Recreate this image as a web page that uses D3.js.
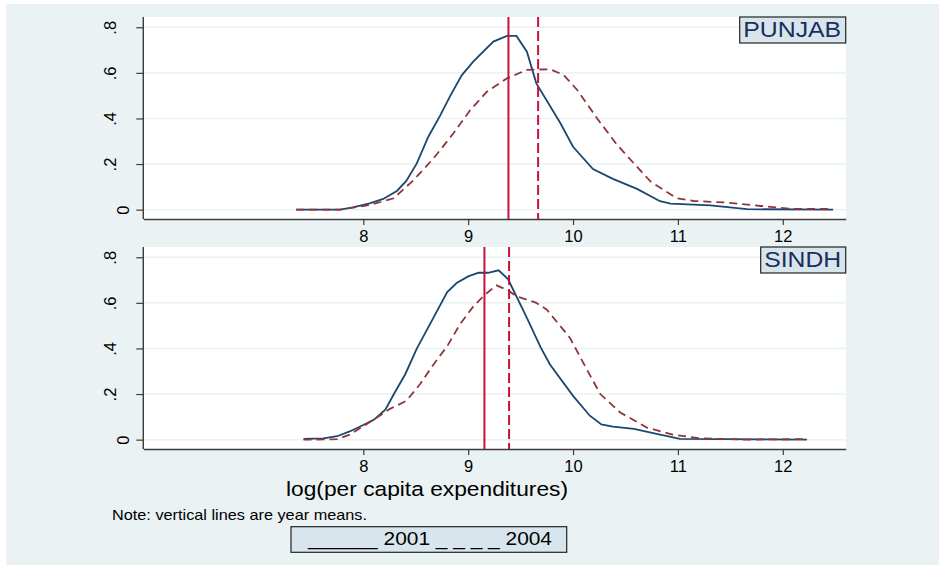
<!DOCTYPE html>
<html>
    <head>
        <title>Expenditure densities</title>
        <script src="https://d3js.org/d3.v7.min.js"></script>
        <style>
            body { margin: 0; }
            svg { display: block; background-color: white; }
            text { font-family: 'Liberation Sans', Arial, sans-serif; }
        </style>
    </head>
    <body>
        <script>
            // chart values
            const regions = ['PUNJAB', 'SINDH']
            const years = ['2001', '2004']
            const xTicks = [8, 9, 10, 11, 12]
            const yTicks = [0, 0.2, 0.4, 0.6, 0.8]
            const yTickLabels = ['0', '.2', '.4', '.6', '.8']

            const punjab2001 = [
                [7.36, 0], [7.78, 0], [7.90, 0.01], [8.06, 0.028], [8.19, 0.047],
                [8.32, 0.082], [8.41, 0.126], [8.51, 0.203], [8.62, 0.32], [8.73, 0.41],
                [8.83, 0.50], [8.94, 0.59], [9.05, 0.65], [9.24, 0.737], [9.37, 0.762],
                [9.46, 0.762], [9.56, 0.693], [9.65, 0.554], [9.88, 0.379], [10.0, 0.276],
                [10.19, 0.178], [10.38, 0.135], [10.61, 0.091], [10.83, 0.037], [10.93, 0.026],
                [11.31, 0.019], [11.66, 0.002], [12.48, 0]
            ]
            const punjab2004 = [
                [7.36, 0], [7.78, 0], [8.06, 0.02], [8.29, 0.05], [8.48, 0.13],
                [8.67, 0.225], [8.86, 0.335], [9.02, 0.437], [9.18, 0.518], [9.37, 0.576],
                [9.56, 0.613], [9.78, 0.616], [9.91, 0.591], [10.04, 0.525], [10.23, 0.40],
                [10.42, 0.284], [10.58, 0.203], [10.74, 0.123], [10.99, 0.05], [11.15, 0.038],
                [11.47, 0.031], [11.79, 0.016], [12.10, 0.003], [12.48, 0.003]
            ]
            const sindh2001 = [
                [7.43, 0.003], [7.62, 0.006], [7.75, 0.015], [7.87, 0.036], [8.0, 0.064],
                [8.10, 0.087], [8.21, 0.131], [8.30, 0.207], [8.40, 0.287], [8.51, 0.399],
                [8.65, 0.519], [8.80, 0.647], [8.89, 0.687], [9.0, 0.716], [9.10, 0.732],
                [9.19, 0.732], [9.29, 0.743], [9.38, 0.704], [9.56, 0.534], [9.69, 0.406],
                [9.78, 0.33], [10.0, 0.192], [10.16, 0.105], [10.27, 0.067], [10.38, 0.057],
                [10.58, 0.047], [10.83, 0.022], [11.02, 0.003], [12.23, 0]
            ]
            const sindh2004 = [
                [7.43, 0], [7.75, 0.002], [7.87, 0.022], [8.0, 0.059], [8.13, 0.097],
                [8.25, 0.134], [8.41, 0.17], [8.54, 0.243], [8.67, 0.33], [8.80, 0.41],
                [8.92, 0.505], [9.05, 0.585], [9.16, 0.636], [9.27, 0.677], [9.38, 0.655],
                [9.46, 0.629], [9.65, 0.60], [9.75, 0.57], [9.97, 0.447], [10.13, 0.309],
                [10.26, 0.20], [10.45, 0.119], [10.70, 0.054], [10.95, 0.022], [11.21, 0.006],
                [11.63, 0], [12.10, 0.002], [12.23, 0.002]
            ]
            const punjabMeans = [9.384, 9.667]
            const sindhMeans = [9.155, 9.39]

            const panels = [
                { name: regions[0], series: [punjab2001, punjab2004], means: punjabMeans, top: 17, labelW: 98 },
                { name: regions[1], series: [sindh2001, sindh2004], means: sindhMeans, top: 247, labelW: 77 }
            ]

            const lineColors = ['#1a476f', '#90353b']
            const lineDash = [null, '8,5']
            const meanColor = '#c8103a'
            const meanDash = [null, '10,4']

            const svg = d3.select('body').append('svg')
            svg.attr('width', 939)
            svg.attr('height', 565)

            svg.append('rect')
                .attr('x', 6).attr('y', 4)
                .attr('width', 933).attr('height', 561)
                .attr('fill', '#eaf2f3')

            const left = 143.3
            const right = 845.7
            const plotH = 202

            const xScale = d3.scaleLinear().domain([5.902, 12.6]).range([left, right])

            panels.forEach(p => {
                const yScale = d3.scaleLinear().domain([-0.041, 0.845]).range([p.top + plotH, p.top])
                const g = svg.append('g')

                g.append('rect')
                    .attr('x', left).attr('y', p.top)
                    .attr('width', right - left).attr('height', plotH)
                    .attr('fill', 'white')

                g.selectAll('.grid')
                    .data(yTicks).enter()
                    .append('line')
                        .attr('class', 'grid')
                        .attr('x1', left).attr('x2', right)
                        .attr('y1', d => yScale(d)).attr('y2', d => yScale(d))
                        .attr('stroke', '#eaf2f3')
                        .attr('stroke-width', 1.5)

                const line = d3.line()
                    .x(d => xScale(d[0]))
                    .y(d => yScale(d[1]))

                p.series.forEach((s, i) => {
                    g.append('path')
                        .datum(s)
                        .attr('d', line)
                        .attr('fill', 'none')
                        .attr('stroke', lineColors[i])
                        .attr('stroke-width', 1.8)
                        .attr('stroke-dasharray', lineDash[i])
                })

                p.means.forEach((m, i) => {
                    g.append('line')
                        .attr('x1', xScale(m)).attr('x2', xScale(m))
                        .attr('y1', p.top).attr('y2', p.top + plotH)
                        .attr('stroke', meanColor)
                        .attr('stroke-width', 2)
                        .attr('stroke-dasharray', meanDash[i])
                })

                // axes
                const xAxis = g.append('g')
                    .attr('transform', `translate(0, ${p.top + plotH})`)
                    .call(d3.axisBottom(xScale).tickValues(xTicks).tickFormat(d3.format('d'))
                        .tickSize(6).tickPadding(5).tickSizeOuter(0))
                xAxis.select('.domain').attr('stroke', '#3c3c3c').attr('stroke-width', 1.4)
                xAxis.selectAll('.tick line').attr('stroke', '#3c3c3c').attr('stroke-width', 1.2)
                xAxis.selectAll('.tick text')
                    .attr('font-size', 16.5).attr('fill', 'black')
                    .attr('font-family', "'Liberation Sans', Arial, sans-serif")

                const yAxis = g.append('g')
                    .attr('transform', `translate(${left}, 0)`)
                    .call(d3.axisLeft(yScale).tickValues(yTicks).tickSize(7).tickSizeOuter(0)
                        .tickFormat((d, i) => yTickLabels[i]))
                yAxis.select('.domain')
                    .attr('d', `M0,${p.top}V${p.top + plotH}`)
                    .attr('stroke', '#3c3c3c').attr('stroke-width', 1.4)
                yAxis.selectAll('.tick line').attr('stroke', '#3c3c3c').attr('stroke-width', 1.2)
                yAxis.selectAll('.tick text')
                    .attr('font-size', 16.5).attr('fill', 'black')
                    .attr('font-family', "'Liberation Sans', Arial, sans-serif")
                    .attr('text-anchor', 'middle')
                    .attr('dy', null)
                    .attr('x', null)
                    .attr('transform', (d, i) => `translate(${yTickLabels[i] === '0' ? -14.5 : -27.5}, 0) rotate(-90)`)

                // region label box
                const label = g.append('text')
                    .attr('x', right - 4.5 - p.labelW).attr('y', p.top + 20)
                    .attr('font-size', 21.5)
                    .attr('fill', '#1a2f5a')
                    .attr('textLength', p.labelW)
                    .attr('lengthAdjust', 'spacingAndGlyphs')
                    .text(p.name)
                g.append('rect')
                    .attr('x', right - p.labelW - 8).attr('y', p.top)
                    .attr('width', p.labelW + 8).attr('height', 26)
                    .attr('fill', '#d9e5ec')
                    .attr('stroke', '#222')
                    .attr('stroke-width', 1.2)
                label.raise()
            })

            svg.append('text')
                .attr('x', 286).attr('y', 496)
                .attr('font-size', 20.5)
                .attr('fill', 'black')
                .attr('textLength', 282)
                .attr('lengthAdjust', 'spacingAndGlyphs')
                .text('log(per capita expenditures)')

            svg.append('text')
                .attr('x', 112).attr('y', 520)
                .attr('font-size', 15)
                .attr('fill', 'black')
                .attr('textLength', 255)
                .attr('lengthAdjust', 'spacingAndGlyphs')
                .text('Note: vertical lines are year means.')

            svg.append('rect')
                .attr('x', 291).attr('y', 526.7)
                .attr('width', 275.7).attr('height', 25.6)
                .attr('fill', '#d9e5ec')
                .attr('stroke', '#222')
                .attr('stroke-width', 1.2)

            svg.append('text')
                .attr('x', 308).attr('y', 545)
                .attr('font-size', 19)
                .attr('fill', 'black')
                .attr('textLength', 244)
                .attr('lengthAdjust', 'spacingAndGlyphs')
                .text(`______ ${years[0]} _ _ _ _ ${years[1]}`)
        </script>
    </body>
</html>
